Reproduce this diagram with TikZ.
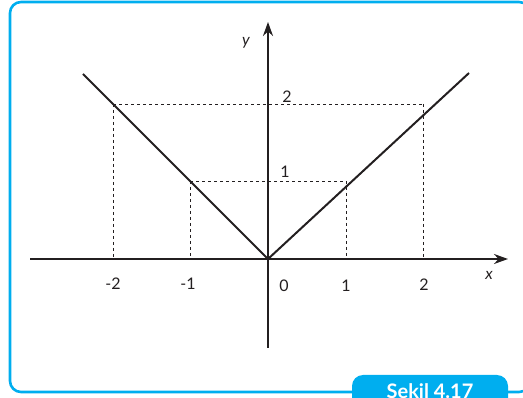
\documentclass[tikz,border=0pt]{standalone}
\usepackage{fontspec}
\setmainfont{Lato}
\usetikzlibrary{arrows.meta}
\definecolor{frame}{HTML}{00AEEF}
\definecolor{ink}{HTML}{231F20}
\begin{document}
\begin{tikzpicture}[x=1pt,y=-1pt,
  axis/.style={ink,line width=2pt,-{Stealth[length=14pt,width=10pt]}},
  graph/.style={ink,line width=2pt},
  guide/.style={ink,line width=0.7pt,dash pattern=on 3pt off 3pt},
  lbl/.style={font=\fontsize{16}{18}\selectfont,text=ink,inner sep=0pt},
  axlbl/.style={font=\fontsize{16}{18}\selectfont\itshape,text=ink,inner sep=0pt}]
\useasboundingbox (0,0) rectangle (523,398);
% frame
\draw[frame,line width=2.6pt,rounded corners=11pt] (10,2) rectangle (530,392);
\fill[frame,rounded corners=11pt] (352,375) rectangle (508,420);
\node[anchor=base,text=white,font=\fontsize{20}{22}\selectfont\bfseries,inner sep=0pt] (tab) at (430,399) {Şekil 4.17};
% coordinates
\coordinate (O) at (268,259);
\coordinate (xl) at (30,259);
\coordinate (xr) at (508,259);
\coordinate (yb) at (268,348);
\coordinate (yt) at (268,22);
\coordinate (m2) at (113,104);
\coordinate (m1) at (190,181);
\coordinate (p1) at (346,181);
\coordinate (p2) at (423,104);
\coordinate (m2a) at (113,259);
\coordinate (m1a) at (190,259);
\coordinate (p1a) at (346,259);
\coordinate (p2a) at (423,259);
\coordinate (lend) at (83,74);
\coordinate (rend) at (469,73);
% guides
\draw[guide] (m2) -- (p2);
\draw[guide] (m1) -- (p1);
\draw[guide] (m2) -- (m2a);
\draw[guide] (m1) -- (m1a);
\draw[guide] (p1) -- (p1a);
\draw[guide] (p2) -- (p2a);
% graph
\draw[graph,line join=miter] (lend) -- (O) -- (rend);
% axes
\draw[axis] (xl) -- (xr);
\draw[axis] (yb) -- (yt);
% labels
\node[axlbl] (ylab) at (246,43) {y};
\node[axlbl] (xlab) at (489,275) {x};
\node[lbl] (t2) at (287,97) {2};
\node[lbl] (t1) at (285,172) {1};
\node[lbl] (am2) at (113,284) {-2};
\node[lbl] (am1) at (188,284) {-1};
\node[lbl] (a0) at (284,286) {0};
\node[lbl] (a1) at (346,286) {1};
\node[lbl] (a2) at (424,285) {2};
\end{tikzpicture}
\end{document}
